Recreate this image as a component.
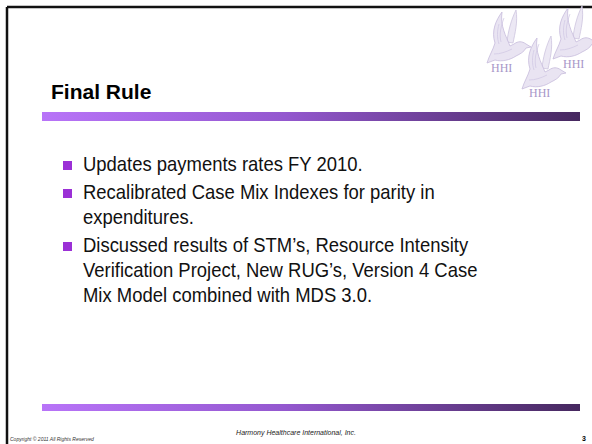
import React from "react";

const title = "Final Rule";
const bullets: string[][] = [
  ["Updates payments rates FY 2010."],
  ["Recalibrated Case Mix Indexes for parity in", "expenditures."],
  ["Discussed results of STM\u2019s, Resource Intensity", "Verification Project, New RUG\u2019s, Version 4 Case", "Mix Model combined with MDS 3.0."],
];
const footerCenter = "Harmony Healthcare International, Inc.";
const footerLeft = "Copyright \u00a9 2011 All Rights Reserved";
const pageNumber = "3";
const doves = [
  { x: 510, y: 46, lx: 491, ly: 72 },
  { x: 545, y: 72, lx: 529, ly: 97 },
  { x: 576, y: 42, lx: 563, ly: 68 },
];

const W = 592;
const H = 444;

function Dove({ x, y }: { x: number; y: number }) {
  const body =
    "M0,0 C-4,-10 -10,-20 -8,-34 C-14,-26 -19,-15 -15,-3 C-17,4 -21,10 -23,17 L-15,14 C-8,16 0,14 6,10 C10,8 14,6 16,2 L21,1 L16,-2 C12,-5 8,-5 4,-2 Z";
  const wing2 = "M3,-3 C5,-13 8,-24 6,-36 C1,-26 -2,-14 -3,-4 Z";
  return (
    <g transform={`translate(${x},${y})`}>
      <path d={wing2} fill="#ece8f4" stroke="#cdc4de" strokeWidth={0.8} />
      <path d={body} fill="#e9e4f2" stroke="#c6bbdc" strokeWidth={0.8} />
      <g fill="none" stroke="#cfc6e2" strokeWidth={0.7}>
        <path d="M-6,-28 C-9,-20 -11,-12 -9,-4" />
        <path d="M-11,-22 C-13,-15 -13,-8 -11,-2" />
        <path d="M-16,8 C-10,8 -4,6 2,3" />
      </g>
    </g>
  );
}

export default function App() {
  const lineH = 25;
  const paraGap = 3;
  let yCursor = 171;
  const lines: { text: string; y: number; first: boolean }[] = [];
  bullets.forEach((b) => {
    b.forEach((t, i) => {
      lines.push({ text: t, y: yCursor, first: i === 0 });
      yCursor += lineH;
    });
    yCursor += paraGap;
  });

  return (
    <svg
      width={W}
      height={H}
      style={{ position: "absolute", left: 0, top: 0 }}
      viewBox={`0 0 ${W} ${H}`}
    >
      <defs>
        <linearGradient id="bar" x1="0" x2="1" y1="0" y2="0">
          <stop offset="0" stopColor="#b874f8" />
          <stop offset="0.45" stopColor="#9458cf" />
          <stop offset="1" stopColor="#46285f" />
        </linearGradient>
      </defs>
      <rect x={0} y={0} width={W} height={H} fill="#ffffff" />
      {/* frame */}
      <line x1={7} y1={7} x2={W} y2={7} stroke="#111" strokeWidth={2.5} />
      <line x1={7} y1={7} x2={7} y2={H} stroke="#111" strokeWidth={2.5} />

      {/* logo */}
      {doves.map((d, i) => (
        <g key={i}>
          <Dove x={d.x} y={d.y} />
          <text
            x={d.lx}
            y={d.ly}
            fontFamily="'Liberation Serif', serif"
            fontSize={12}
            fill="#a796c8"
          >
            HHI
          </text>
        </g>
      ))}

      {/* title */}
      <text
        x={51}
        y={99}
        fontFamily="'Liberation Sans', Arial, sans-serif"
        fontWeight="bold"
        fontSize={21}
        fill="#000"
      >
        {title}
      </text>
      <rect x={42} y={112} width={538} height={9} fill="url(#bar)" />

      {/* bullets */}
      {lines.map((l, i) => (
        <g key={i}>
          {l.first && <rect x={63} y={l.y - 10} width={9} height={9} fill="#9b30d6" />}
          <g transform={`translate(83,${l.y}) scale(0.9,1)`}>
            <text
              x={0}
              y={0}
              fontFamily="'Liberation Sans Narrow', 'Liberation Sans', Arial, sans-serif"
              fontSize={20.5}
              fill="#111"
            >
              {l.text}
            </text>
          </g>
        </g>
      ))}

      <rect x={42} y={404} width={538} height={7} fill="url(#bar)" />

      {/* footer */}
      <text
        x={10}
        y={441}
        fontFamily="'Liberation Sans', Arial, sans-serif"
        fontStyle="italic"
        fontSize={5}
        fill="#333"
      >
        {footerLeft}
      </text>
      <text
        x={296}
        y={435}
        textAnchor="middle"
        fontFamily="'Liberation Sans', Arial, sans-serif"
        fontStyle="italic"
        fontSize={7}
        fill="#222"
      >
        {footerCenter}
      </text>
      <text
        x={586}
        y={441}
        textAnchor="end"
        fontFamily="'Liberation Sans', Arial, sans-serif"
        fontWeight="bold"
        fontSize={7}
        fill="#000"
      >
        {pageNumber}
      </text>
    </svg>
  );
}
